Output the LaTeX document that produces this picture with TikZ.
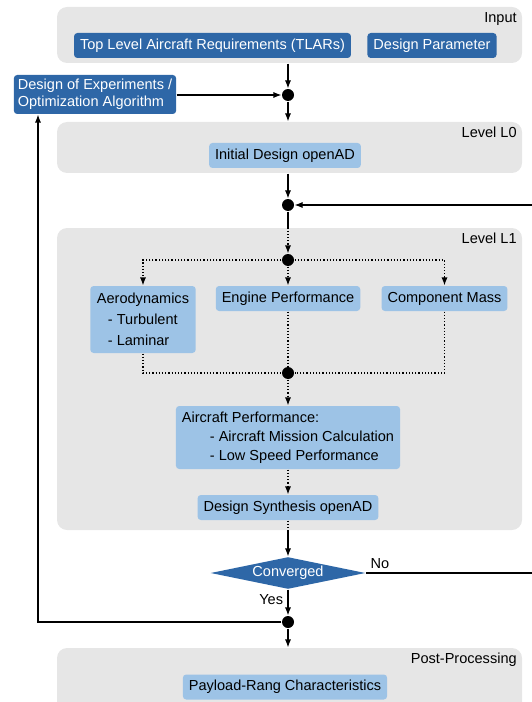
\documentclass[tikz,border=0pt]{standalone}
\usepackage{fontspec}
\setmainfont{Liberation Sans}
\usetikzlibrary{arrows.meta,shapes.geometric,positioning}
\definecolor{darkblue}{HTML}{2E67A7}
\definecolor{lightblue}{HTML}{9DC3E6}
\definecolor{groupgrey}{HTML}{E6E6E6}

\begin{document}
\begin{tikzpicture}[x=0.75pt,y=-0.75pt,line width=0.8pt]
\tikzstyle{every node}=[font=\fontsize{10.9}{13}\selectfont];
\tikzstyle{grp}=[fill=groupgrey, rounded corners=7.5pt, minimum width=348.75pt, inner sep=0pt];
\tikzstyle{grplabel}=[anchor=north east, inner sep=4pt];
\tikzstyle{dkbox}=[fill=darkblue, text=white, rounded corners=2.5pt, minimum height=18.75pt, inner xsep=4.5pt, inner ysep=2pt];
\tikzstyle{ltbox}=[fill=lightblue, rounded corners=2.5pt, minimum height=18.75pt, inner xsep=4.5pt, inner ysep=2pt];
\tikzstyle{cond}=[diamond, fill=darkblue, text=white, aspect=4.84, inner sep=0pt, minimum width=116.25pt, minimum height=24pt];
\tikzstyle{dot}=[fill, circle, inner sep=0pt, minimum size=9pt];
\tikzstyle{arr}=[-{Latex[length=6pt,width=4.5pt]}];
\tikzstyle{dotln}=[dash pattern=on 0.9pt off 1.5pt];
\tikzstyle{dotarr}=[dotln, -{Latex[length=6pt,width=4.5pt]}];

\useasboundingbox (0,0) rectangle (531,702);

% groups
\draw (289.5,35) node[grp, minimum height=42pt] (input) {};
\draw (289.5,147.5) node[grp, minimum height=38.25pt] (l0) {};
\draw (289.5,379) node[grp, minimum height=226.5pt] (l1) {};
\draw (289.5,684) node[grp, minimum height=54pt] (post) {};

\node[grplabel] at (input.north east) {Input};
\node[grplabel] at (l0.north east) {Level L0};
\node[grplabel] at (l1.north east) {Level L1};
\node[grplabel] at (post.north east) {Post-Processing};

% boxes
\draw (212.5,45.5) node[dkbox] (tlar) {Top Level Aircraft Requirements (TLARs)};
\draw (432,45.5) node[dkbox] (param) {Design Parameter};
\draw (95,94.5) node[dkbox, align=left, inner xsep=3pt, minimum height=29.25pt,
  font=\fontsize{10.9}{12.75}\selectfont] (doe) {Design of Experiments /\\Optimization Algorithm};

\draw (285,155.5) node[ltbox] (init) {Initial Design openAD};

\draw (143,319.5) node[ltbox, align=left, inner xsep=5pt, minimum height=50.25pt,
  font=\fontsize{10.9}{15.75}\selectfont] (aero)
  {Aerodynamics\\\hspace*{8.25pt}- Turbulent\\\hspace*{8.25pt}- Laminar};
\draw (288,298.5) node[ltbox] (eng) {Engine Performance};
\draw (444.5,298.5) node[ltbox] (comp) {Component Mass};

\draw (288,437.5) node[ltbox, align=left, minimum height=47.25pt,
  font=\fontsize{10.9}{14.25}\selectfont] (acperf)
  {Aircraft Performance:\\\hspace*{21pt}- Aircraft Mission Calculation\\\hspace*{21pt}- Low Speed Performance};
\draw (288,507.5) node[ltbox] (synth) {Design Synthesis openAD};

\draw (288,573) node[cond] (conv) {Converged};

\draw (285,687) node[ltbox] (payload) {Payload-Rang Characteristics};

% junctions
\draw (288,95) node[dot] (dot1) {};
\draw (288,205) node[dot] (dot2) {};
\draw (288,260) node[dot] (dot3) {};
\draw (288,373) node[dot] (dot4) {};
\draw (288,622) node[dot] (dot5) {};

\coordinate (retL) at (38,622);
\coordinate (retR) at (536,573);

% connectors
\draw[arr] (input.south -| dot1) -- (dot1);
\draw[arr] (doe.east |- dot1) -- (dot1);
\draw[arr] (dot1) -- (dot1 |- l0.north);
\draw[arr] (l0.south -| dot2) -- (dot2);

\draw (dot2) -- (dot2 |- l1.north);
\draw[dotarr] (dot2 |- l1.north) -- (dot3);
\draw[dotarr] (dot3) -| (aero);
\draw[dotarr] (dot3) -- (eng);
\draw[dotarr] (dot3) -| (comp);
\draw[dotln] (aero) |- (dot4);
\draw[dotln] (eng) -- (dot4);
\draw[dotln] (comp) |- (dot4);
\draw[dotarr] (dot4) -- (acperf);
\draw[dotarr] (acperf) -- (synth);
\draw[dotln] (synth) -- (synth |- l1.south);
\draw[arr] (synth |- l1.south) -- (conv);

\draw[arr] (conv) -- node[left, pos=0.4] {Yes} (dot5);
\draw[arr] (dot5) -- (dot5 |- post.north);
\draw[arr] (dot5) -- (retL) -- (retL |- doe.south);

\draw[arr] (conv.east) -- (retR) |- (dot2);
\node[anchor=south west, inner sep=3pt] at (conv.east) {No};

\end{tikzpicture}
\end{document}
